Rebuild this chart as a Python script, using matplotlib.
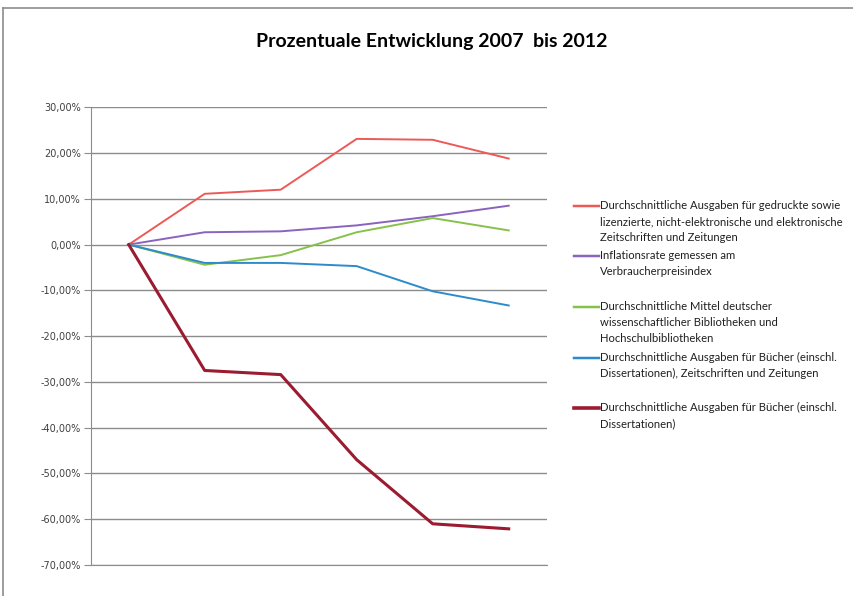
import matplotlib
matplotlib.use("Agg")
import matplotlib.pyplot as plt
from matplotlib.lines import Line2D
from matplotlib.ticker import FuncFormatter

# Daten (in Prozent)
jahre = ["2007", "2008", "2009", "2010", "2011", "2012"]

zeitschriften = [0.0, 11.1, 12.0, 23.1, 22.9, 18.8]
inflation = [0.0, 2.7, 2.9, 4.2, 6.2, 8.5]
mittel = [0.0, -4.4, -2.3, 2.7, 5.8, 3.1]
buecher_zs = [0.0, -4.0, -4.0, -4.7, -10.2, -13.3]
buecher = [0.0, -27.5, -28.4, -47.0, -61.0, -62.1]

labels = [
    "Durchschnittliche Ausgaben für gedruckte sowie\nlizenzierte, nicht-elektronische und elektronische\nZeitschriften und Zeitungen",
    "Inflationsrate gemessen am\nVerbraucherpreisindex",
    "Durchschnittliche Mittel deutscher\nwissenschaftlicher Bibliotheken und\nHochschulbibliotheken",
    "Durchschnittliche Ausgaben für Bücher (einschl.\nDissertationen), Zeitschriften und Zeitungen",
    "Durchschnittliche Ausgaben für Bücher (einschl.\nDissertationen)",
]

serien = [zeitschriften, inflation, mittel, buecher_zs, buecher]
farben = ["#EC5A57", "#8A63BE", "#86C24A", "#2D8BCB", "#9B1B30"]
breiten = [1.4, 1.4, 1.4, 1.4, 2.2]

W, H = 854, 596
fig = plt.figure(figsize=(W / 100, H / 100), dpi=100)
ax = fig.add_axes([90.7 / W, 1 - 565 / H, (546.7 - 90.7) / W, (565 - 107.3) / H])

x = list(range(len(jahre)))
for werte, farbe, lw in zip(serien, farben, breiten):
    ax.plot(x, werte, color=farbe, lw=lw, solid_joinstyle="round")

ax.set_xlim(-0.5, 5.5)
ax.set_ylim(-70, 30)
ax.set_yticks(range(-70, 31, 10))
ax.yaxis.set_major_formatter(FuncFormatter(lambda v, p: f"{v:.2f}%".replace(".", ",")))
ax.set_xticks([])
ax.grid(axis="y", color="#8c8c8c", lw=1)
ax.set_axisbelow(True)
for s in ["top", "right"]:
    ax.spines[s].set_visible(False)
ax.spines["left"].set_color("#8c8c8c")
ax.spines["bottom"].set_color("#8c8c8c")
ax.tick_params(axis="y", direction="out", length=5, color="#8c8c8c", pad=2,
               labelsize=7, labelcolor="#404040")

fig.text(0.506, 1 - 42 / H, "Prozentuale Entwicklung 2007  bis 2012", ha="center", va="center",
         fontsize=14, fontweight="bold", family="Lato")

# Legende rechts
leg_y = [206, 256, 307, 358, 408]
for lab, farbe, lw, y in zip(labels, farben, breiten, leg_y):
    fig.add_artist(Line2D([574 / W, 599 / W], [1 - y / H, 1 - y / H], color=farbe, lw=lw + 0.4))
    fig.text(600 / W, 1 - (y - 6) / H, lab, ha="left", va="top", fontsize=8.1,
             family="Lato", color="#202020", linespacing=1.58)

# Rahmen
fig.add_artist(Line2D([3 / W, 1], [1 - 8 / H, 1 - 8 / H], color="#8c8c8c", lw=1.2))
fig.add_artist(Line2D([3 / W, 3 / W], [0, 1 - 8 / H], color="#8c8c8c", lw=1.2))

fig.savefig("out.png", dpi=100)
